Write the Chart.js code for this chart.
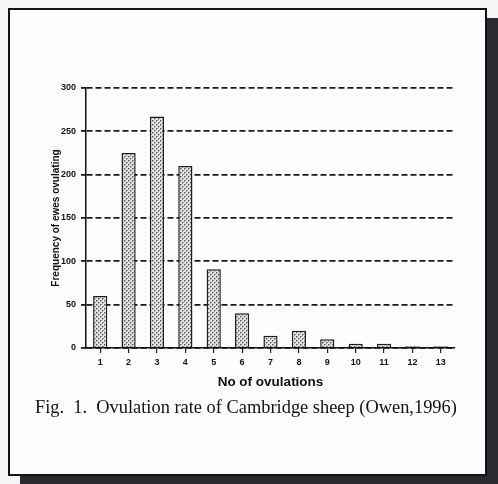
<!DOCTYPE html>
<html>
<head>
<meta charset="utf-8">
<script src="https://cdn.jsdelivr.net/npm/chart.js@4"></script>
<style>
  html, body { margin: 0; padding: 0; }
  body { width: 498px; height: 484px; background: #f4f6f6; position: relative; overflow: hidden; }
  #frame {
    position: absolute; left: 8px; top: 8px; width: 479px; height: 468px;
    box-sizing: border-box; border: 2px solid #141414; background: #fdfdfd;
    box-shadow: 12px 10px 0 #2a2a31;
  }
  #ovChart { position: absolute; left: 0; top: 0; }
  #caption {
    position: absolute; left: 35px; top: 397px; margin: 0;
    font-family: "Liberation Serif", "Times New Roman", serif; font-size: 18.4px;
    color: #111; white-space: pre;
  }
</style>
</head>
<body>
<div id="frame"></div>
<canvas id="ovChart" width="498" height="484"></canvas>
<p id="caption">Fig.  1.  Ovulation rate of Cambridge sheep (Owen,1996)</p>
<script>
const ovulations = ["1", "2", "3", "4", "5", "6", "7", "8", "9", "10", "11", "12", "13"];
const frequency = [60, 225, 267, 210, 91, 40, 14, 20, 10, 5, 5, 2, 2];
const yTicks = [0, 50, 100, 150, 200, 250, 300];

// dotted grey fill like the scanned bars
function dotPattern() {
  const c = document.createElement("canvas");
  c.width = 4;
  c.height = 4;
  const p = c.getContext("2d");
  p.fillStyle = "#e2e2e2";
  p.fillRect(0, 0, 4, 4);
  p.fillStyle = "#5e5e5e";
  p.fillRect(0, 0, 1, 1);
  p.fillRect(2, 2, 1, 1);
  p.fillStyle = "#9a9a9a";
  p.fillRect(1, 0, 1, 1);
  p.fillRect(3, 2, 1, 1);
  p.fillRect(0, 1, 1, 1);
  p.fillRect(2, 3, 1, 1);
  return p.createPattern(c, "repeat");
}

const ctx = document.getElementById("ovChart");
const data = {
  labels: ovulations,
  datasets: [
    {
      label: "Frequency",
      data: frequency,
      backgroundColor: dotPattern(),
      borderColor: "#1e1e1e",
      borderWidth: 1.5,
      categoryPercentage: 1,
      barPercentage: 0.5,
    },
  ],
};

const ovChart = new Chart(ctx, {
  type: "bar",
  data: data,
  options: {
    responsive: false,
    animation: false,
    layout: {
      padding: { left: 40, right: 43, top: 88, bottom: 94 },
    },
    plugins: {
      legend: { display: false },
      tooltip: { enabled: false },
    },
    scales: {
      x: {
        grid: {
          offset: false,
          drawOnChartArea: false,
          tickLength: 5,
          color: "#222",
          lineWidth: 1.2,
        },
        border: { color: "#111", width: 1.5 },
        ticks: {
          color: "#111",
          padding: 4,
          maxRotation: 0,
          font: { family: "Arial, 'Liberation Sans', sans-serif", size: 9, weight: "bold" },
        },
        title: {
          display: true,
          text: "No of ovulations",
          color: "#111",
          padding: 0,
          font: { family: "Arial, 'Liberation Sans', sans-serif", size: 13.5, weight: "bold" },
        },
        afterFit: (scale) => { scale.height = 42; },
      },
      y: {
        min: 0,
        max: 300,
        afterBuildTicks: (scale) => { scale.ticks = yTicks.map((v) => ({ value: v })); },
        grid: {
          tickLength: 5,
          color: "#1a1a1a",
          lineWidth: 1.8,
        },
        border: { color: "#111", width: 1.5, dash: [6, 3] },
        ticks: {
          color: "#111",
          padding: 5,
          font: { family: "Arial, 'Liberation Sans', sans-serif", size: 9, weight: "bold" },
        },
        title: {
          display: true,
          text: "Frequency of ewes ovulating",
          color: "#111",
          padding: { top: 10, bottom: 0 },
          font: { family: "Arial, 'Liberation Sans', sans-serif", size: 10, weight: "bold" },
        },
        afterFit: (scale) => { scale.width = 46; },
      },
    },
  },
});
</script>
</body>
</html>
